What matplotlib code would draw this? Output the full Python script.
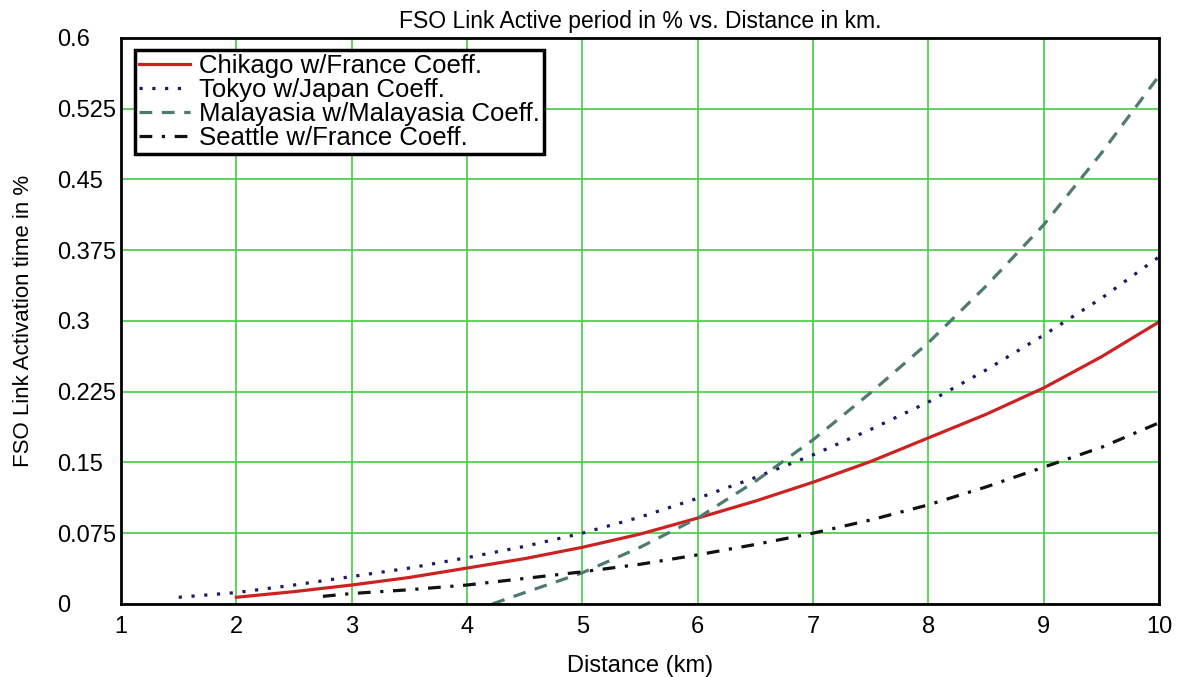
import matplotlib
matplotlib.use('Agg')
import matplotlib.pyplot as plt
from matplotlib.ticker import FixedLocator

plt.rcParams['font.family'] = ['Liberation Sans', 'DejaVu Sans']

# values
chikago_x = [2, 2.5, 3, 3.5, 4, 4.5, 5, 5.5, 6, 6.5, 7, 7.5, 8, 8.5, 9, 9.5, 10]
chikago_y = [0.007, 0.013, 0.020, 0.028, 0.038, 0.048, 0.060, 0.074, 0.091, 0.109, 0.129, 0.151, 0.176, 0.201, 0.229, 0.262, 0.299]

tokyo_x = [1.5, 2, 2.5, 3, 3.5, 4, 4.5, 5, 5.5, 6, 6.5, 7, 7.5, 8, 8.5, 9, 9.5, 10]
tokyo_y = [0.007, 0.012, 0.020, 0.029, 0.038, 0.049, 0.061, 0.075, 0.092, 0.112, 0.134, 0.158, 0.185, 0.214, 0.248, 0.285, 0.324, 0.368]

malay_x = [4.22, 4.5, 5, 5.5, 6, 6.5, 7, 7.5, 8, 8.5, 9, 9.5, 10]
malay_y = [0.0, 0.012, 0.033, 0.060, 0.091, 0.130, 0.174, 0.224, 0.277, 0.337, 0.402, 0.478, 0.560]

seattle_x = [2.75, 3, 3.5, 4, 4.5, 5, 5.5, 6, 6.5, 7, 7.5, 8, 8.5, 9, 9.5, 10]
seattle_y = [0.008, 0.011, 0.015, 0.020, 0.027, 0.034, 0.042, 0.052, 0.063, 0.075, 0.089, 0.105, 0.124, 0.145, 0.166, 0.192]

yticks = [0, 0.075, 0.15, 0.225, 0.3, 0.375, 0.45, 0.525, 0.6]
ytick_labels = ['0', '0.075', '0.15', '0.225', '0.3', '0.375', '0.45', '0.525', '0.6']
xticks = [1, 2, 3, 4, 5, 6, 7, 8, 9, 10]

fig = plt.figure(figsize=(11.81, 6.77), dpi=100)
ax = fig.add_axes([0.1025, 0.108, 0.879, 0.836])

ax.plot(chikago_x, chikago_y, color='#cc2222', lw=2.3, label='Chikago w/France Coeff.')
ax.plot(tokyo_x, tokyo_y, color='#1a1a66', lw=2.3, ls=(0, (1, 3)), label='Tokyo w/Japan Coeff.')
ax.plot(malay_x, malay_y, color='#4f7a72', lw=2.3, ls=(0, (4, 3)), label='Malayasia w/Malayasia Coeff.')
ax.plot(seattle_x, seattle_y, color='#111111', lw=2.3, ls=(0, (4, 3, 1, 3)), label='Seattle w/France Coeff.')

ax.set_xlim(1, 10)
ax.set_ylim(0, 0.6)
ax.xaxis.set_major_locator(FixedLocator(xticks))
ax.set_yticks(yticks)
ax.set_yticklabels(ytick_labels)
ax.grid(True, color='#44cc44', lw=1.2)
ax.set_axisbelow(True)

ax.tick_params(axis='both', length=0, labelsize=17)
ax.tick_params(axis='y', pad=46)
for lbl in ax.get_yticklabels():
    lbl.set_horizontalalignment('left')
ax.tick_params(axis='x', pad=9)

for s in ax.spines.values():
    s.set_linewidth(2)
    s.set_color('black')

ax.set_title('FSO Link Active period in % vs. Distance in km.', fontsize=16.5, pad=7)
ax.set_xlabel('Distance (km)', fontsize=17, labelpad=12)
ax.set_ylabel('FSO Link Activation time in %', fontsize=16, labelpad=17)

leg = ax.legend(loc='upper left', fontsize=18.5, frameon=True, fancybox=False,
                handlelength=2.0, handletextpad=0.35, borderpad=0.15, labelspacing=0.0,
                bbox_to_anchor=(0.0135, 0.979), borderaxespad=0)
leg.get_frame().set_edgecolor('black')
leg.get_frame().set_linewidth(2.5)
leg.get_frame().set_alpha(1)

fig.savefig('out.png', dpi=100)
